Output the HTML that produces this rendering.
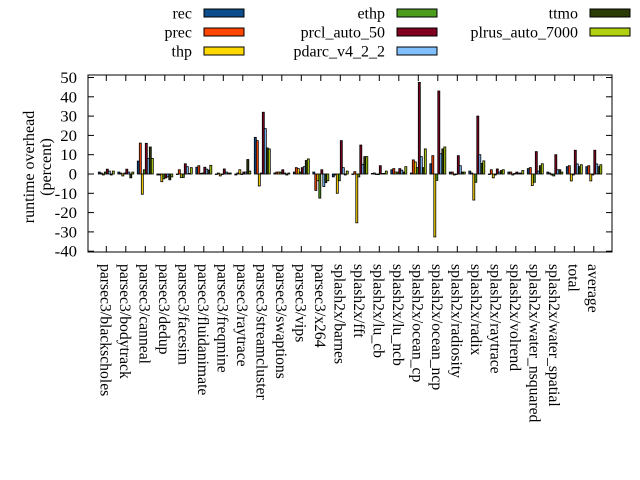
<!DOCTYPE html>
<html><head><meta charset="utf-8"><style>
html,body{margin:0;padding:0;background:#fff}
svg{display:block;font-family:"Liberation Serif",serif}
</style></head><body>
<svg id="s" width="640" height="480" xmlns="http://www.w3.org/2000/svg"></svg>
<script>
const s=document.getElementById('s');
const NS='http://www.w3.org/2000/svg';
function el(t,a,txt){const e=document.createElementNS(NS,t);for(const k in a)e.setAttribute(k,a[k]);if(txt!==undefined)e.textContent=txt;s.appendChild(e);return e;}
const L=88,R=612,T=75,B=252;
const y0=174, k=1.93;
const Y=v=>y0-v*k;
const cats=["parsec3/blackscholes","parsec3/bodytrack","parsec3/canneal","parsec3/dedup","parsec3/facesim","parsec3/fluidanimate","parsec3/freqmine","parsec3/raytrace","parsec3/streamcluster","parsec3/swaptions","parsec3/vips","parsec3/x264","splash2x/barnes","splash2x/fft","splash2x/lu_cb","splash2x/lu_ncb","splash2x/ocean_cp","splash2x/ocean_ncp","splash2x/radiosity","splash2x/radix","splash2x/raytrace","splash2x/volrend","splash2x/water_nsquared","splash2x/water_spatial","total","average"];
const colors=["#0b4c8c","#ff4500","#ffd700","#4c9c1c","#800020","#80c0ff","#2b3b06","#b0d010"];
const data=[
[1,0.5,-0.5,1,2.5,1.5,-0.5,1.5],
[1,0.5,-1,0.5,2.5,1,-2,1],
[6.7,16,-10.5,2.2,15.9,8,14,8.1],
[-0.5,-0.5,-4,-2.5,-2,-1.5,-3,-1.5],
[0,2.2,-1.8,-1.8,5.3,3.8,0.3,3.3],
[3.5,4.3,0.3,0.5,3.5,2.5,2,4.5],
[0,0.5,-1,0,2.6,1,0.5,0.5],
[-0.5,0.5,2.2,0,1,1,7.5,1.5],
[19,17.3,-6.2,0.5,32,23.5,13.5,13],
[0.5,1,1,1,2.2,0.5,-0.5,0.5],
[1,3.3,2.8,1,3.3,3.8,7,7.8],
[1,-8.5,-3.5,-12.5,2.2,-6.5,-4.5,-3.5],
[-1.5,-0.5,-10,-3.5,17.3,3.3,-0.5,1.5],
[0,1.2,-25.3,-1.5,15,5,9,9],
[0.3,0.5,0,-0.3,4.3,0.3,0.3,1.5],
[2.2,2.8,1,1,2.8,2,1,3.8],
[0.5,7.3,6.2,3.3,47.5,9,3.3,13],
[5.3,9.5,-32.6,-3.3,43,10.5,13,14],
[1,1,-0.5,0,9.5,4.3,1,1],
[1.5,0.5,-13.5,-4.3,30,10,5.5,6.8],
[0,2.2,-2,-0.5,2.6,1,1.8,2.2],
[1,1,-0.5,0.3,1,0.5,0.5,1.8],
[2.8,3.3,-6,-4.3,11.6,1.5,4.3,5.3],
[1,0.5,-0.5,-1,10,2.2,2.2,1],
[3.8,4.3,-3.6,-0.5,12.3,5.2,3.8,4.8],
[3.8,4.3,-3.6,-0.5,12.3,5.2,3.8,4.8]];
el('rect',{x:L,y:T,width:R-L,height:B-T,fill:'none',stroke:'#000','stroke-width':1});
for(let v=-40;v<=50;v+=10){const y=Y(v);
 el('line',{x1:L,y1:y,x2:L+6,y2:y,stroke:'#000'});
 el('line',{x1:R,y1:y,x2:R-6,y2:y,stroke:'#000'});
 el('text',{x:77,y:y+5.5,'text-anchor':'end','font-size':16,transform:`translate(77,0) scale(1.05,1) translate(-77,0)`},String(v));}
cats.forEach((c,i)=>{const cx=106.3+19.5*i;
 el('line',{x1:cx,y1:B,x2:cx,y2:B-6,stroke:'#000'});
 el('line',{x1:cx,y1:T,x2:cx,y2:T+6,stroke:'#000'});
 el('text',{x:0,y:0,'font-size':16,transform:`translate(${cx-6},264) rotate(90) scale(0.98,1)`},c);
 data[i].forEach((v,j)=>{const x=cx-8+2*j;const y=Math.min(Y(v),Y(0));const h=Math.max(Math.abs(v*k),0.5);
  el('rect',{x:x,y:y,width:2,height:h,fill:colors[j],stroke:'#000','stroke-width':0.8});});
});
el('text',{x:0,y:0,'font-size':16,'text-anchor':'middle',transform:'translate(34,167) rotate(-90)'},'runtime overhead');
el('text',{x:0,y:0,'font-size':16,'text-anchor':'middle',transform:'translate(51,167) rotate(-90)'},'(percent)');
const names=["rec","prec","thp","ethp","prcl_auto_50","pdarc_v4_2_2","ttmo","plrus_auto_7000"];
names.forEach((n,j)=>{const col=Math.floor(j/3),row=j%3;
 const lx=[192,385,578][col], bx=[204,397,590][col], y=13+row*19;
 el('text',{x:lx,y:y+5.5,'text-anchor':'end','font-size':16},n);
 el('rect',{x:bx,y:y-4,width:40,height:8,fill:colors[j],stroke:'#000','stroke-width':1});});
</script>
</body></html>
